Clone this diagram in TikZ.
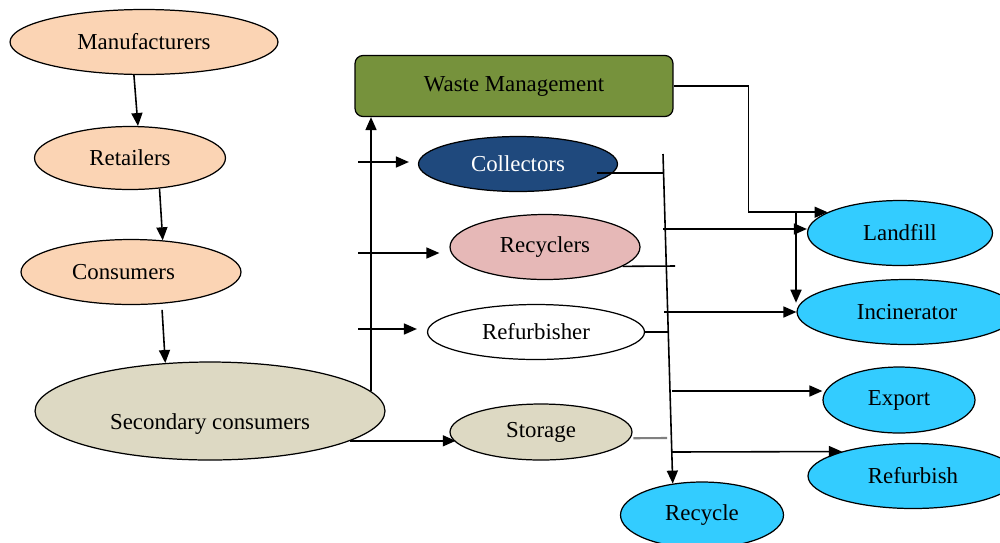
\documentclass[tikz,border=0pt]{standalone}
\usepackage{fontspec}
\setmainfont{Liberation Serif}
\usetikzlibrary{shapes.geometric,arrows.meta}
\definecolor{peach}{HTML}{FBD4B4}
\definecolor{tan}{HTML}{DDD9C3}
\definecolor{olive}{HTML}{76923C}
\definecolor{navy}{HTML}{1F497D}
\definecolor{rose}{HTML}{E6B8B7}
\definecolor{sky}{HTML}{33CCFF}
\definecolor{greyline}{HTML}{808080}
\begin{document}
\begin{tikzpicture}[x=0.02cm,y=-0.02cm,
  ell/.style={ellipse,draw=black,line width=0.7pt,inner sep=0pt,font=\fontsize{13}{15}\selectfont},
  box/.style={rectangle,rounded corners=0.16cm,draw=black,line width=0.7pt,inner sep=0pt,font=\fontsize{13}{15}\selectfont},
  arr/.style={-{Triangle[length=0.26cm,width=0.22cm]},line width=0.9pt},
  ln/.style={line width=0.9pt}]
\useasboundingbox (0,0) rectangle (1000,542);
\clip (0,0) rectangle (1000,542);

% left chain
\node[ell,fill=peach,minimum width=5.36cm,minimum height=1.30cm] (Man) at (144,42) {Manufacturers};
\node[ell,fill=peach,minimum width=3.82cm,minimum height=1.26cm] (Ret) at (130,158) {Retailers};
\node[ell,fill=peach,minimum width=4.40cm,minimum height=1.30cm] (Con) at (131,272) {\hspace*{-0.3cm}Consumers};
\node[ell,fill=tan,minimum width=7.00cm,minimum height=1.96cm] (SC) at (210,411) {\smash{\raisebox{-0.36cm}{Secondary consumers}}};

% middle
\node[box,fill=olive,minimum width=6.36cm,minimum height=1.22cm] (WM) at (514,86) {Waste Management};
\node[ell,fill=navy,text=white,minimum width=3.98cm,minimum height=1.10cm] (Col) at (518,164) {Collectors};
\node[ell,fill=rose,minimum width=3.80cm,minimum height=1.30cm] (Rec) at (545,247) {Recyclers};
\node[ell,fill=white,minimum width=4.34cm,minimum height=1.10cm] (Rfr) at (536,332) {Refurbisher};
\node[ell,fill=tan,minimum width=3.64cm,minimum height=1.12cm] (Sto) at (541,432) {Storage};

% right
\node[ell,fill=sky,minimum width=3.70cm,minimum height=1.30cm] (Land) at (900,233) {Landfill};
\node[ell,fill=sky,minimum width=4.40cm,minimum height=1.30cm] (Inc) at (907,312) {Incinerator};
\node[ell,fill=sky,minimum width=3.04cm,minimum height=1.32cm] (Exp) at (899,400) {Export};
\node[ell,fill=sky,minimum width=4.20cm,minimum height=1.30cm] (Rfb) at (913,476) {Refurbish};
\node[ell,fill=sky,minimum width=3.26cm,minimum height=1.32cm] (Rcy) at (702,515) {Recycle};

% left chain arrows
\draw[arr] (Man.253) -- (Ret.76);
\draw[arr] (Ret.314) -- (Con.45);
\draw[arr,shorten <=0.12cm] (Con.-46) -- (SC.133.5);

% secondary consumers
\draw[arr] (SC.7) -- (SC.7 |- WM.south);
\draw[arr] (SC.-12.9) -- (SC.-12.9 -| Sto.187);

% arrows into middle column
\coordinate (l1) at (358,162);
\coordinate (l2) at (358,253);
\coordinate (l3) at (358,329);
\draw[arr,shorten >=0.18cm] (l1) -- (l1 -| Col.west);
\draw[arr,shorten >=0.2cm] (l2) -- (l2 -| Rec.west);
\draw[arr,shorten >=0.2cm] (l3) -- (l3 -| Rfr.west);

% waste management to landfill and incinerator
\draw[arr] (WM.east) -- ++(75,0) |- (Land.164);
\coordinate (jn) at (796,213);
\draw[arr] (jn) -- (jn |- Inc.175);

% trunk
\coordinate (tTop) at (663,154);
\draw[arr] (tTop) -- (Rcy.133);
\coordinate (b1) at (664,173);
\coordinate (b2) at (675,266);
\coordinate (b3) at (668,332);
\coordinate (b4) at (667,438);
\draw[ln] ([shift={(79,9)}]Col.center) -- (b1);
\draw[ln] (Rec.-14) -- (b2);
\draw[ln] (Rfr.east) -- (b3);
\draw[line width=1.2pt,greyline,shorten <=0.06cm] (Sto.-4) -- (b4);

\coordinate (a1) at (663,229);
\coordinate (a2) at (664,312);
\coordinate (a3) at (672,391);
\coordinate (a4) at (672,452);
\draw[arr] (a1) -- (a1 -| Land.west);
\draw[arr] (a2) -- (Inc.west);
\draw[arr] (a3) -- (a3 -| Exp.west);
\draw[arr] (a4) -- (Rfb.161);
\end{tikzpicture}
\end{document}
